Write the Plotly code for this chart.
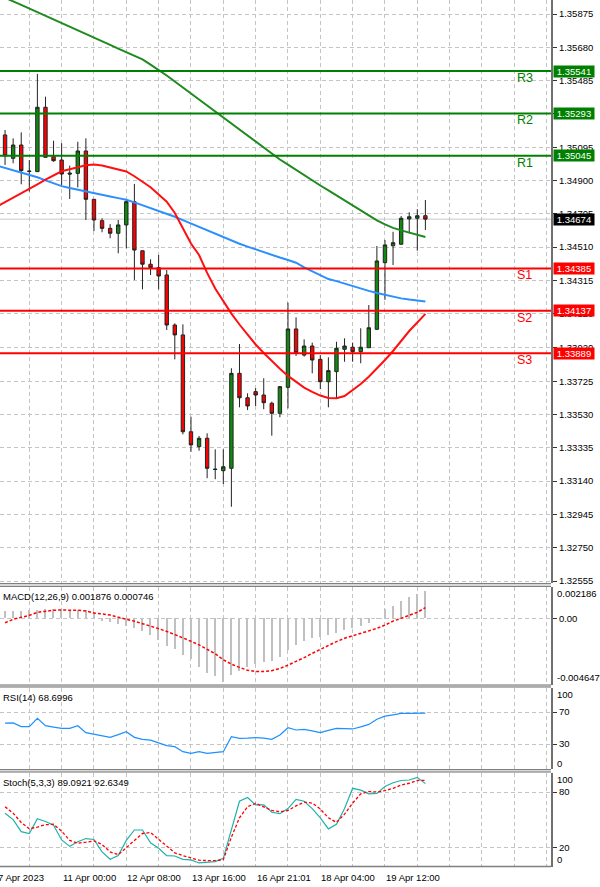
import plotly.graph_objects as go

# ---------------- data ----------------
bars = list(range(53))
ma_bars = list(range(-1, 53))

open_ = [1.35167, 1.35030, 1.35108, 1.34956, 1.34952, 1.35329, 1.35040, 1.35020, 1.34944, 1.34942,
         1.35073, 1.34790, 1.34665, 1.34620, 1.34591, 1.34640, 1.34776, 1.34489, 1.34410, 1.34390,
         1.34347, 1.34054, 1.33996, 1.33429, 1.33342, 1.33391, 1.33211, 1.33201, 1.33215, 1.33771,
         1.33628, 1.33664, 1.33644, 1.33596, 1.33537, 1.33689, 1.34031, 1.33878, 1.33931, 1.33853,
         1.33722, 1.33781, 1.33912, 1.33924, 1.33898, 1.33921, 1.34029, 1.34419, 1.34518, 1.34527,
         1.34675, 1.34679, 1.34694]
high = [1.35196, 1.35147, 1.35182, 1.35020, 1.35524, 1.35391, 1.35133, 1.35118, 1.34987, 1.35127,
        1.35147, 1.34790, 1.34679, 1.34645, 1.34669, 1.34786, 1.34880, 1.34489, 1.34439, 1.34464,
        1.34376, 1.34064, 1.34058, 1.33517, 1.33404, 1.33420, 1.33326, 1.33326, 1.33801, 1.33943,
        1.33654, 1.33684, 1.33742, 1.33605, 1.33697, 1.34185, 1.34099, 1.33970, 1.33951, 1.33878,
        1.33865, 1.33956, 1.33976, 1.33951, 1.34035, 1.34171, 1.34517, 1.34552, 1.34600, 1.34692,
        1.34714, 1.34732, 1.34786]
low = [1.34991, 1.35001, 1.34878, 1.34835, 1.34950, 1.35036, 1.35010, 1.34874, 1.34792, 1.34860,
       1.34669, 1.34604, 1.34597, 1.34562, 1.34474, 1.34503, 1.34318, 1.34263, 1.34347, 1.34263,
       1.34025, 1.33853, 1.33414, 1.33312, 1.33318, 1.33157, 1.33151, 1.33123, 1.32990, 1.33572,
       1.33556, 1.33580, 1.33561, 1.33406, 1.33514, 1.33566, 1.33873, 1.33869, 1.33771, 1.33679,
       1.33572, 1.33625, 1.33839, 1.33839, 1.33830, 1.33921, 1.34025, 1.34201, 1.34405, 1.34523,
       1.34591, 1.34489, 1.34610]
close = [1.35044, 1.35108, 1.34958, 1.34953, 1.35329, 1.35036, 1.35016, 1.34938, 1.34938, 1.35073,
         1.34790, 1.34669, 1.34620, 1.34591, 1.34640, 1.34776, 1.34493, 1.34410, 1.34390, 1.34341,
         1.34054, 1.33996, 1.33429, 1.33352, 1.33391, 1.33215, 1.33208, 1.33224, 1.33771, 1.33628,
         1.33580, 1.33644, 1.33599, 1.33537, 1.33693, 1.34031, 1.33892, 1.33931, 1.33849, 1.33722,
         1.33787, 1.33918, 1.33931, 1.33898, 1.33924, 1.34038, 1.34429, 1.34523, 1.34536, 1.34679,
         1.34688, 1.34694, 1.34674]

ma_green = [1.35992, 1.35969, 1.35949, 1.35928, 1.35907, 1.35887, 1.35866, 1.35846, 1.35822, 1.35803,
            1.35781, 1.35760, 1.35739, 1.35717, 1.35694, 1.35672, 1.35651, 1.35631, 1.35609, 1.35579,
            1.35548, 1.35515, 1.35480, 1.35445, 1.35410, 1.35374, 1.35339, 1.35304, 1.35269, 1.35234,
            1.35198, 1.35164, 1.35129, 1.35093, 1.35055, 1.35023, 1.34993, 1.34962, 1.34928, 1.34900,
            1.34871, 1.34842, 1.34813, 1.34783, 1.34752, 1.34723, 1.34695, 1.34667, 1.34643, 1.34623,
            1.34608, 1.34595, 1.34582, 1.34569]
ma_blue = [1.34987, 1.34973, 1.34960, 1.34947, 1.34934, 1.34919, 1.34901, 1.34884, 1.34867, 1.34856,
           1.34847, 1.34837, 1.34827, 1.34817, 1.34807, 1.34797, 1.34787, 1.34772, 1.34755, 1.34739,
           1.34724, 1.34708, 1.34688, 1.34668, 1.34648, 1.34628, 1.34607, 1.34587, 1.34568, 1.34547,
           1.34530, 1.34513, 1.34497, 1.34480, 1.34462, 1.34449, 1.34435, 1.34419, 1.34391, 1.34367,
           1.34345, 1.34323, 1.34311, 1.34296, 1.34282, 1.34269, 1.34254, 1.34242, 1.34230, 1.34220,
           1.34210, 1.34203, 1.34196, 1.34192]
ma_red = [1.34748, 1.34773, 1.34798, 1.34825, 1.34852, 1.34878, 1.34905, 1.34931, 1.34954, 1.34966,
          1.34977, 1.34989, 1.34994, 1.34988, 1.34976, 1.34965, 1.34953, 1.34925, 1.34892, 1.34861,
          1.34818, 1.34776, 1.34710, 1.34619, 1.34531, 1.34464, 1.34359, 1.34268, 1.34195, 1.34121,
          1.34057, 1.33999, 1.33940, 1.33890, 1.33843, 1.33798, 1.33756, 1.33722, 1.33688, 1.33663,
          1.33641, 1.33627, 1.33625, 1.33638, 1.33671, 1.33709, 1.33751, 1.33799, 1.33849, 1.33902,
          1.33960, 1.34019, 1.34069, 1.34119]

macd_main = [0.00049, 0.00049, 0.00049, 0.00056, 0.00056, 0.00063, 0.00063, 0.00063, 0.00056, 0.00056,
             0.00056, 0.00042, -0.00021, -0.00028, -0.00042, -0.00056, -0.00070, -0.00091, -0.00118, -0.00153,
             -0.00195, -0.00216, -0.00258, -0.00286, -0.00342, -0.00383, -0.00404, -0.00446, -0.00397, -0.00369,
             -0.00342, -0.00321, -0.00307, -0.00300, -0.00272, -0.00223, -0.00188, -0.00160, -0.00139, -0.00132,
             -0.00118, -0.00105, -0.00084, -0.00070, -0.00056, -0.00035, -0.00002, 0.00063, 0.00084, 0.00118,
             0.00146, 0.00167, 0.001876]
macd_signal = [-0.00031, -0.00007, 0.00007, 0.00021, 0.00042, 0.00052, 0.00057, 0.00058, 0.00058, 0.00056,
               0.00051, 0.00038, 0.00031, 0.00023, 0.00008, -0.00005, -0.00020, -0.00037, -0.00052, -0.00072,
               -0.00091, -0.00112, -0.00136, -0.00160, -0.00185, -0.00216, -0.00247, -0.00289, -0.00319, -0.00342,
               -0.00362, -0.00371, -0.00371, -0.00365, -0.00349, -0.00326, -0.00302, -0.00274, -0.00244, -0.00216,
               -0.00186, -0.00162, -0.00139, -0.00121, -0.00105, -0.00089, -0.00070, -0.00047, -0.00019, 0.00000,
               0.00019, 0.00042, 0.000746]

rsi = [56, 56.3, 51.7, 51.7, 62.1, 52.9, 51.2, 49.6, 49.6, 52.9,
       44.2, 42, 40, 38.3, 41.8, 45.4, 38.3, 35.8, 34.8, 31,
       28, 26.7, 20.4, 18.3, 20.4, 18.3, 19.4, 20.4, 39.2, 37,
       37.3, 38, 37.3, 35.8, 41.3, 50.4, 47.5, 48.3, 46.5, 44.2,
       47, 49.6, 49.2, 48.8, 51.5, 54.5, 61, 64.9, 66.5, 68.3,
       68.4, 68.5, 68.6996]

stoch_main = [57, 50, 37, 35, 51, 48, 44, 28, 21, 26,
              29.5, 28.5, 15, 7, 11, 27.5, 38.8, 38.8, 25, 19,
              11, 10.6, 7, 6.3, 3, 3.4, 4.5, 8, 40, 70,
              74, 66, 66, 58, 56.5, 62, 72, 70, 62, 52,
              40, 45, 62, 84, 82, 78, 78.5, 86, 90, 92.5,
              93, 95.9, 89.0921]
stoch_signal = [64, 57, 47, 40, 42, 44.5, 45, 37.5, 27.5, 24.5,
                25.5, 27, 23, 15, 12, 19.5, 27, 35, 36, 29,
                21, 14, 11, 8.5, 6, 5.6, 5.6, 6.5, 31, 52,
                64, 67.7, 64, 60, 58.5, 60, 65, 69, 68, 61.5,
                52, 47, 56, 68, 78, 80.5, 80, 81.5, 84, 87.5,
                89.5, 92.5, 92.6349]

level_names = ["R3", "R2", "R1", "S1", "S2", "S3"]
level_values = [1.35541, 1.35293, 1.35045, 1.34385, 1.34137, 1.33889]
current_price = 1.34674

price_ticks = [1.35875, 1.35680, 1.35485, 1.35290, 1.35095, 1.34900, 1.34705, 1.34510, 1.34315,
               1.34120, 1.33920, 1.33725, 1.33530, 1.33335, 1.33140, 1.32945, 1.32750, 1.32555]
grid_bars = list(range(3, 68, 4))
time_tick_bars = [-1, 7, 15, 23, 31, 39, 47]
time_tick_text = ["7 Apr 2023", "11 Apr 00:00", "12 Apr 08:00", "13 Apr 16:00",
                  "16 Apr 21:01", "18 Apr 04:00", "19 Apr 12:00"]

macd_label = "MACD(12,26,9) 0.001876 0.000746"
rsi_label = "RSI(14) 68.6996"
stoch_label = "Stoch(5,3,3) 89.0921 92.6349"
macd_max, macd_min = 0.002186, -0.004647

# ---------------- layout helpers ----------------
W, H = 600, 887
ML, MR, MT, MB = 0, 49, 0, 20
PH = H - MT - MB  # plot area height in px


def P(ypx):
    return (PH - ypx) / PH


XR = [-0.625, 67.54]
FONT = "Liberation Sans, Arial, sans-serif"
GREEN = "#008000"
RED = "#ff0000"
GRID = "#c4c4c4"
GDASH = "4px,3px"

fig = go.Figure()

fig.add_trace(go.Candlestick(
    x=bars, open=open_, high=high, low=low, close=close,
    increasing=dict(line=dict(color="#222222", width=1), fillcolor="#0f8a0f"),
    decreasing=dict(line=dict(color="#222222", width=1), fillcolor="#ff0000"),
    whiskerwidth=0, xaxis="x", yaxis="y", hoverinfo="skip"))
fig.add_trace(go.Scatter(x=ma_bars, y=ma_green, mode="lines", line=dict(color="#1f8a1f", width=2),
                         xaxis="x", yaxis="y", hoverinfo="skip"))
fig.add_trace(go.Scatter(x=ma_bars, y=ma_blue, mode="lines", line=dict(color="#2b8fff", width=2),
                         xaxis="x", yaxis="y", hoverinfo="skip"))
fig.add_trace(go.Scatter(x=ma_bars, y=ma_red, mode="lines", line=dict(color="#ff1010", width=2),
                         xaxis="x", yaxis="y", hoverinfo="skip"))

fig.add_trace(go.Bar(x=bars, y=macd_main, width=0.16, marker=dict(color="#c0c0c0", line=dict(width=0)),
                     xaxis="x2", yaxis="y2", hoverinfo="skip"))
fig.add_trace(go.Scatter(x=bars, y=macd_signal, mode="lines",
                         line=dict(color="#ff0000", width=1.5, dash="3px,2px"),
                         xaxis="x2", yaxis="y2", hoverinfo="skip"))

fig.add_trace(go.Scatter(x=bars, y=rsi, mode="lines", line=dict(color="#1e90ff", width=1.2),
                         xaxis="x3", yaxis="y3", hoverinfo="skip"))

fig.add_trace(go.Scatter(x=bars, y=stoch_main, mode="lines", line=dict(color="#20b2aa", width=1.2),
                         xaxis="x4", yaxis="y4", hoverinfo="skip"))
fig.add_trace(go.Scatter(x=bars, y=stoch_signal, mode="lines",
                         line=dict(color="#ff0000", width=1.3, dash="3px,2px"),
                         xaxis="x4", yaxis="y4", hoverinfo="skip"))

xcommon = dict(range=XR, showticklabels=False, tickvals=grid_bars, ticks="", showgrid=True,
               gridcolor=GRID, griddash=GDASH, gridwidth=1, zeroline=False, showline=False,
               fixedrange=True)
ycommon = dict(side="right", showgrid=True, gridcolor=GRID, griddash=GDASH, gridwidth=1,
               zeroline=False, showline=True, linecolor="#707070", linewidth=2,
               ticks="outside", ticklen=4, tickcolor="#333333", tickwidth=1,
               tickfont=dict(family=FONT, size=9.5, color="#000000"), fixedrange=True)

fig.update_layout(
    width=W, height=H, margin=dict(l=ML, r=MR, t=MT, b=MB),
    paper_bgcolor="white", plot_bgcolor="white", showlegend=False, boxgap=0.4,
    bargap=0,
    xaxis=dict(xcommon, domain=[0, 1], anchor="y", rangeslider=dict(visible=False)),
    xaxis2=dict(xcommon, domain=[0, 1], anchor="y2", matches="x"),
    xaxis3=dict(xcommon, domain=[0, 1], anchor="y3", matches="x"),
    xaxis4=dict(xcommon, domain=[0, 1], anchor="y4", matches="x"),
    yaxis=dict(ycommon, domain=[P(583), 1], anchor="x", range=[1.325435, 1.35957],
               tickvals=price_ticks, ticktext=[f"{v:.5f}" for v in price_ticks]),
    yaxis2=dict(ycommon, domain=[P(685), P(587)], anchor="x2", range=[macd_min, macd_max],
                tickvals=[0], ticktext=["0.00"]),
    yaxis3=dict(ycommon, domain=[P(769), P(687.5)], anchor="x3", range=[-1.25, 100.625],
                tickvals=[30, 70], ticktext=["30", "70"]),
    yaxis4=dict(ycommon, domain=[0, P(772.5)], anchor="x4", range=[-1.37, 101.16],
                tickvals=[20, 80], ticktext=["20", "80"]),
)

shapes = []
# bid line (drawn between grid and candles)
shapes.append(dict(type="line", xref="x", yref="y", x0=XR[0], x1=XR[1], y0=current_price, y1=current_price,
                   line=dict(color="#c8c8c8", width=1), layer="between"))
# support / resistance lines
for name, val in zip(level_names, level_values):
    col = GREEN if name.startswith("R") else RED
    shapes.append(dict(type="line", xref="x", yref="y", x0=XR[0], x1=XR[1], y0=val, y1=val,
                       line=dict(color=col, width=2), layer="above"))
# panel separators
for top, bot in [(583, 587), (684.5, 687.5), (769, 772.5)]:
    shapes.append(dict(type="rect", xref="paper", yref="paper", x0=0, x1=1, y0=P(bot), y1=P(top),
                       fillcolor="#d8d8d8", line=dict(width=0), layer="above"))
    for yy in (top + 0.5, bot - 0.5):
        shapes.append(dict(type="line", xref="paper", yref="paper", x0=0, x1=1, y0=P(yy), y1=P(yy),
                           line=dict(color="#808080", width=1), layer="above"))
shapes.append(dict(type="line", xref="paper", yref="paper", x0=0, x1=1, y0=P(866.5), y1=P(866.5),
                   line=dict(color="#808080", width=1.5), layer="above"))
fig.update_layout(shapes=shapes)

ann = []
for name, val in zip(level_names, level_values):
    col = GREEN if name.startswith("R") else RED
    ann.append(dict(x=63.1, y=val, xref="x", yref="y", text=name, showarrow=False, xanchor="left",
                    yanchor="middle", yshift=-7, font=dict(family=FONT, size=12.5, color=col)))
    ann.append(dict(x=1, y=val, xref="paper", yref="y", text=f"{val:.5f}", showarrow=False,
                    xanchor="left", yanchor="middle", xshift=2, bgcolor=col, width=40, height=11,
                    borderpad=0, font=dict(family=FONT, size=9.5, color="white")))
ann.append(dict(x=1, y=current_price, xref="paper", yref="y", text=f"{current_price:.5f}", showarrow=False,
                xanchor="left", yanchor="middle", xshift=2, bgcolor="#000000", width=40, height=11,
                borderpad=0, font=dict(family=FONT, size=9.5, color="white")))

# panel titles
for txt, yr in [(macd_label, "y2"), (rsi_label, "y3"), (stoch_label, "y4")]:
    ann.append(dict(x=0, y=1, xref="paper", yref=yr + " domain", text=txt, showarrow=False,
                    xanchor="left", yanchor="top", xshift=1, yshift=-2,
                    font=dict(family=FONT, size=9.5, color="#000000")))

# clamped min / max labels of sub-windows
for val, txt, yr, sh in [(macd_max, f"{macd_max:.6f}", "y2", -6), (macd_min, f"{macd_min:.6f}", "y2", 8),
                         (100, "100", "y3", -6), (0, "0", "y3", 5),
                         (100, "100", "y4", -5.5), (0, "0", "y4", 6)]:
    ann.append(dict(x=1, y=val, xref="paper", yref=yr, text=txt, showarrow=False, xanchor="left",
                    yanchor="middle", xshift=4, yshift=sh,
                    font=dict(family=FONT, size=9.5, color="#000000")))

# time labels
for b, txt in zip(time_tick_bars, time_tick_text):
    px = (b - XR[0]) / (XR[1] - XR[0])
    ann.append(dict(x=px, y=0, xref="paper", yref="paper", text=txt, showarrow=False, xanchor="left",
                    yanchor="middle", xshift=-1, yshift=-10,
                    font=dict(family=FONT, size=9.5, color="#000000")))

fig.update_layout(annotations=ann)

fig.write_html("out.html")
